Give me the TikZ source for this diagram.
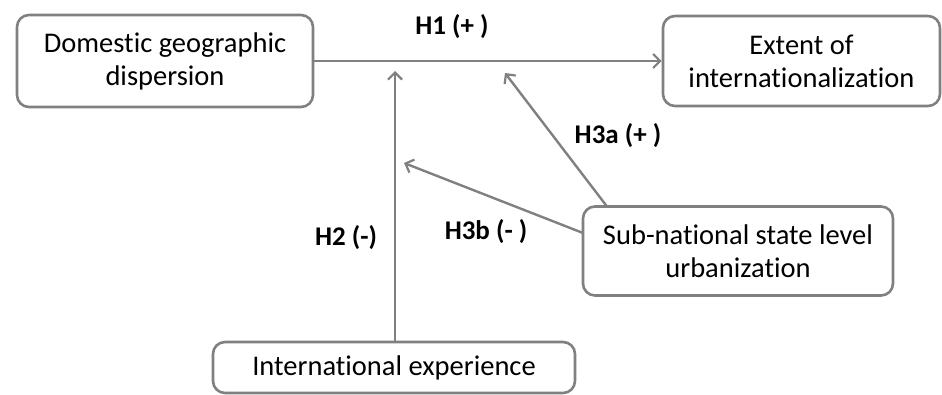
\documentclass[tikz,border=0pt]{standalone}
\usepackage{fontspec}
\setmainfont{Carlito}[Ligatures=NoCommon]
\usetikzlibrary{arrows.meta}
\definecolor{lg}{HTML}{808080}
\begin{document}
\begin{tikzpicture}[x=1pt,y=-1pt,
  box/.style={draw=lg,line width=2.6pt,rounded corners=12pt,align=center,inner sep=0pt,font=\fontsize{28.5}{33}\selectfont},
  conn/.style={draw=lg,line width=2.4pt,-{Straight Barb[length=7pt,width=14pt,line width=2.2pt]}},
  lbl/.style={font=\bfseries\fontsize{27}{30}\selectfont}]
\useasboundingbox (0,0) rectangle (942,395);
\node[box,minimum width=296pt,minimum height=92pt] (A) at (165,61) {Domestic geographic\\dispersion};
\node[box,minimum width=277pt,minimum height=90pt] (B) at (801.5,61) {Extent of\\internationalization};
\node[box,minimum width=310pt,minimum height=89pt] (C) at (738,251) {Sub-national state level\\urbanization};
\node[box,minimum width=362pt,minimum height=51pt] (D) at (394,367.5) {International experience};
\coordinate (t2) at (395,71);
\coordinate (t3a) at (505,73);
\coordinate (t3b) at (404,163);
\coordinate (s3a) at (607,206.5);
\coordinate (s3b) at (583,233);
\draw[conn] (A.east) -- (B.west);
\draw[conn] (D.north -| t2) -- (t2);
\draw[conn] (s3a) -- (t3a);
\draw[conn] (s3b) -- (t3b);
\node[lbl] (h1) at (452,27) {H1 (+ )};
\node[lbl] (h2) at (346,238) {H2 (-)};
\node[lbl] (h3a) at (618,136) {H3a (+ )};
\node[lbl] (h3b) at (486,232) {H3b (- )};
\end{tikzpicture}
\end{document}
